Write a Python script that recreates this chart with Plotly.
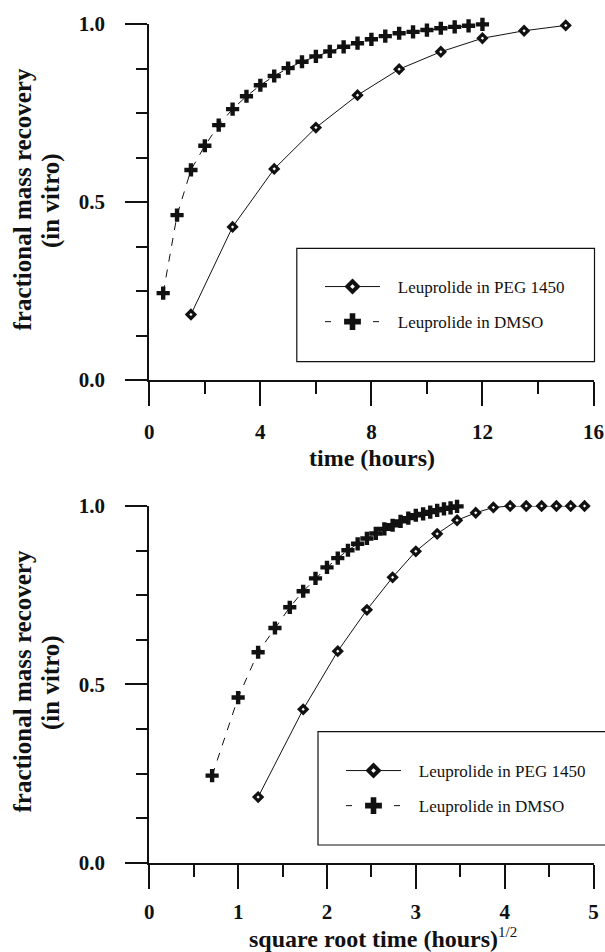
import plotly.graph_objects as go

# ---- data ----
peg_time = [1.5, 3, 4.5, 6, 7.5, 9, 10.5, 12, 13.5, 15, 16.5, 18, 19.5, 21, 22.5, 24]
peg_frac = [0.184, 0.430, 0.593, 0.709, 0.800, 0.873, 0.922, 0.960, 0.981, 0.996,
            1.0, 1.0, 1.0, 1.0, 1.0, 1.0]
dmso_time = [0.5, 1, 1.5, 2, 2.5, 3, 3.5, 4, 4.5, 5, 5.5, 6, 6.5, 7, 7.5, 8,
             8.5, 9, 9.5, 10, 10.5, 11, 11.5, 12]
dmso_frac = [0.244, 0.463, 0.590, 0.658, 0.716, 0.761, 0.797, 0.828, 0.854, 0.876,
             0.894, 0.909, 0.923, 0.936, 0.946, 0.957, 0.966, 0.974, 0.978, 0.983,
             0.988, 0.992, 0.995, 0.999]
peg_name = "Leuprolide in PEG 1450"
dmso_name = "Leuprolide in DMSO"
ytitle_1 = "fractional mass recovery"
ytitle_2 = "(in vitro)"
xtitle_top = "time (hours)"
xtitle_bot = ("square root time (hours)"
              "<sup><span style='font-size:15px;font-weight:normal'>1/2</span></sup>")
top_xmax = 16
bot_xmax = 5

peg_top_t = [t for t in peg_time if t <= top_xmax]
peg_top_f = peg_frac[:len(peg_top_t)]
peg_sqrt = [t ** 0.5 for t in peg_time]
dmso_sqrt = [t ** 0.5 for t in dmso_time]

W, H = 605, 952
FONT = "Liberation Serif"
BLACK = "#111111"
PAD = "\u00a0" * 3

peg_marker = dict(symbol="diamond", size=6, color="white",
                  line=dict(color=BLACK, width=3.2))
dmso_marker = dict(symbol="cross", size=11, color=BLACK, line=dict(width=0))
peg_leg_marker = dict(symbol="diamond", size=8, color="white",
                      line=dict(color=BLACK, width=4))
dmso_leg_marker = dict(symbol="cross", size=14, color=BLACK, line=dict(width=0))
peg_line = dict(color=BLACK, width=1)
dmso_line = dict(color=BLACK, width=1, dash="8px,8px")
dmso_leg_line = dict(color=BLACK, width=1, dash="6px,42px")

fig = go.Figure()
for xa, ya, leg, xs_p, xs_d in [("x", "y", "legend", peg_top_t, dmso_time),
                                ("x2", "y2", "legend2", peg_sqrt, dmso_sqrt)]:
    ys_p = peg_top_f if xa == "x" else peg_frac
    fig.add_trace(go.Scatter(x=xs_p, y=ys_p, mode="lines+markers", name=peg_name,
                             marker=peg_marker, line=peg_line, cliponaxis=False,
                             xaxis=xa, yaxis=ya, showlegend=False))
    fig.add_trace(go.Scatter(x=xs_d, y=dmso_frac, mode="lines+markers", name=dmso_name,
                             marker=dmso_marker, line=dmso_line, cliponaxis=False,
                             xaxis=xa, yaxis=ya, showlegend=False))
    # legend-only entries (no data points) with the larger legend symbols
    fig.add_trace(go.Scatter(x=[None], y=[None], mode="lines+markers",
                             name=PAD + peg_name, marker=peg_leg_marker, line=peg_line,
                             xaxis=xa, yaxis=ya, legend=leg, legendgroup=leg + "a"))
    fig.add_trace(go.Scatter(x=[None], y=[None], mode="lines+markers",
                             name=PAD + dmso_name, marker=dmso_leg_marker,
                             line=dmso_leg_line,
                             xaxis=xa, yaxis=ya, legend=leg, legendgroup=leg + "b"))

tickfont = dict(family=FONT, size=21, color=BLACK, weight="bold")
titlefont = dict(family=FONT, size=24, color=BLACK, weight="bold")
ytitlefont = dict(family=FONT, size=25, color=BLACK, weight="bold")


def px_x(p):
    return p / W


def px_y(p):
    return (H - p) / H


x_dom = [px_x(149.3), px_x(593.5)]
common_x = dict(showline=True, linecolor=BLACK, linewidth=2, ticks="outside",
                ticklen=24, tickwidth=2, tickcolor=BLACK, showgrid=False,
                zeroline=False, tickfont=tickfont, automargin=False,
                ticklabelstandoff=8)
common_y = dict(showline=True, linecolor=BLACK, linewidth=2, ticks="outside",
                ticklen=22, tickwidth=2, tickcolor=BLACK, showgrid=False,
                zeroline=False, tickfont=tickfont, automargin=False,
                ticklabelstandoff=16,
                range=[0, 1], tickvals=[0, 0.5, 1.0], tickformat=".1f",
                minor=dict(dtick=0.125, tick0=0, ticklen=11, tickwidth=2,
                           tickcolor=BLACK, ticks="outside", showgrid=False))

annotations = []
for yc in (200, 682):
    annotations.append(dict(text=ytitle_1, x=px_x(21.5), y=px_y(yc), xref="paper",
                            yref="paper", textangle=-90, showarrow=False,
                            xanchor="center", yanchor="middle", font=ytitlefont))
    annotations.append(dict(text=ytitle_2, x=px_x(51), y=px_y(yc), xref="paper",
                            yref="paper", textangle=-90, showarrow=False,
                            xanchor="center", yanchor="middle", font=ytitlefont))
annotations.append(dict(text=xtitle_top, x=px_x(371.5), y=px_y(458), xref="paper",
                        yref="paper", showarrow=False, xanchor="center",
                        yanchor="middle", font=titlefont))
annotations.append(dict(text=xtitle_bot, x=px_x(383.4), y=px_y(938), xref="paper",
                        yref="paper", showarrow=False, xanchor="center",
                        yanchor="middle", font=titlefont))

leg_common = dict(xanchor="left", yanchor="top", bgcolor="rgba(0,0,0,0)",
                  borderwidth=0, font=dict(family=FONT, size=17, color=BLACK),
                  itemsizing="trace", itemwidth=55,
                  traceorder="grouped", tracegroupgap=10)

fig.update_layout(
    width=W, height=H,
    margin=dict(l=0, r=0, t=0, b=0),
    paper_bgcolor="white", plot_bgcolor="white",
    xaxis=dict(common_x, domain=x_dom, anchor="y", range=[0, top_xmax],
               dtick=4, tick0=0,
               minor=dict(dtick=2, tick0=0, ticklen=12, tickwidth=2,
                          tickcolor=BLACK, ticks="outside", showgrid=False)),
    yaxis=dict(common_y, domain=[px_y(380), px_y(24)], anchor="x"),
    xaxis2=dict(common_x, domain=x_dom, anchor="y2", range=[0, bot_xmax],
                dtick=1, tick0=0, ticklabelstandoff=5,
                minor=dict(dtick=0.5, tick0=0, ticklen=12, tickwidth=2,
                           tickcolor=BLACK, ticks="outside", showgrid=False)),
    yaxis2=dict(common_y, domain=[px_y(862.7), px_y(506)], anchor="x2"),
    legend=dict(leg_common, x=px_x(320), y=px_y(269)),
    legend2=dict(leg_common, x=px_x(341), y=px_y(753)),
    annotations=annotations,
    shapes=[
        dict(type="rect", xref="paper", yref="paper",
             x0=px_x(296.8), x1=px_x(594.5), y0=px_y(361.7), y1=px_y(248.3),
             line=dict(color=BLACK, width=1.2), fillcolor="rgba(0,0,0,0)"),
        dict(type="rect", xref="paper", yref="paper",
             x0=px_x(318), x1=px_x(610), y0=px_y(845), y1=px_y(731.7),
             line=dict(color=BLACK, width=1.2), fillcolor="rgba(0,0,0,0)"),
    ],
)

fig.write_html("out.html",
               config={"displayModeBar": False},
               post_script="document.body.style.margin='0px';"
                           "document.body.style.overflow='hidden';")
